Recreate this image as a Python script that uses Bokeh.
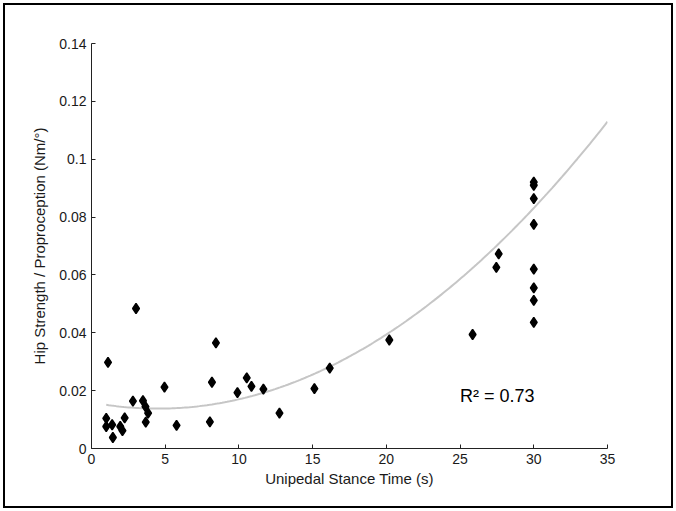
import numpy as np
from bokeh.plotting import figure
from bokeh.models import ColumnDataSource, Range1d, FixedTicker, Label
from bokeh.embed import file_html
from bokeh.resources import INLINE

# Unipedal stance time (s)
stance_time = [1.0, 1.0, 1.4, 1.45, 1.95, 2.1, 2.25,
               2.81, 3.49, 3.66, 3.84, 3.68, 4.95, 5.77,
               1.12, 3.02,
               8.44, 8.17, 8.03, 9.9, 10.53, 10.85, 11.66, 12.75,
               15.12, 16.16, 20.2, 25.85, 27.46, 27.62,
               30.0, 30.0, 30.0, 30.0, 30.0, 30.0, 30.0, 30.0]
# Hip strength / proprioception (Nm/deg)
hip_ratio = [0.0104, 0.0076, 0.0082, 0.0038, 0.0076, 0.0062, 0.0106,
             0.0164, 0.0165, 0.0145, 0.0122, 0.0091, 0.0212, 0.0080,
             0.0298, 0.0484,
             0.0365, 0.0229, 0.0092, 0.0193, 0.0244, 0.0215, 0.0205, 0.0122,
             0.0207, 0.0278, 0.0375, 0.0394, 0.0626, 0.0673,
             0.0921, 0.0910, 0.0864, 0.0775, 0.0620, 0.0555, 0.0512, 0.0436]

# Quadratic trend line as drawn in the chart (vertex, curvature)
trend_vertex_x = 4.5
trend_vertex_y = 0.0138
trend_curvature = 1.066e-4
trend_x_end = 35

x_ticks = [0, 5, 10, 15, 20, 25, 30, 35]
y_ticks = [0, 0.02, 0.04, 0.06, 0.08, 0.1, 0.12, 0.14]
y_tick_labels = {0: "0", 0.02: "0.02", 0.04: "0.04", 0.06: "0.06", 0.08: "0.08",
                 0.1: "0.1", 0.12: "0.12", 0.14: "0.14"}
r2_text = "R\u00b2 = 0.73"

fit_x = np.linspace(min(stance_time), trend_x_end, 200)
fit_y = trend_vertex_y + trend_curvature * (fit_x - trend_vertex_x) ** 2

FONT = "Liberation Sans"
TXT = "#1a1a1a"

p = figure(width=670, height=505, output_backend="svg", toolbar_location=None,
           x_range=Range1d(0, 35), y_range=Range1d(0, 0.14),
           min_border_left=86, min_border_right=68, min_border_top=38, min_border_bottom=62,
           styles={"border": "2px solid black", "box-sizing": "border-box"})
p.margin = (3, 3, 3, 3)
p.grid.visible = False
p.outline_line_color = None
p.background_fill_color = "white"
p.border_fill_color = "white"

p.line(fit_x, fit_y, line_color="#c6c6c6", line_width=2)
src = ColumnDataSource(dict(x=stance_time, y=hip_ratio))
p.scatter("x", "y", source=src, marker="diamond", size=10, fill_color="black",
          line_color="black", line_width=1.5)

for ax in (p.xaxis[0], p.yaxis[0]):
    ax.axis_line_color = "#222222"
    ax.major_tick_line_color = "#222222"
    ax.major_tick_in = 4
    ax.major_tick_out = 0
    ax.minor_tick_line_color = None
    ax.major_label_text_font = FONT
    ax.major_label_text_font_size = "14px"
    ax.major_label_text_color = TXT
    ax.axis_label_text_font = FONT
    ax.axis_label_text_font_size = "15px"
    ax.axis_label_text_font_style = "normal"
    ax.axis_label_text_color = TXT

p.xaxis.ticker = FixedTicker(ticks=x_ticks)
p.yaxis.ticker = FixedTicker(ticks=y_ticks)
p.yaxis.major_label_overrides = y_tick_labels
p.xaxis.axis_label = "Unipedal Stance Time (s)"
p.yaxis.axis_label = "Hip Strength / Proproception (Nm/\u00b0)"
p.xaxis.major_label_standoff = 5
p.yaxis.major_label_standoff = 5
p.xaxis.axis_label_standoff = 3
p.yaxis.axis_label_standoff = 8

p.add_layout(Label(x=25.0, y=0.0180, text=r2_text, text_font=FONT, text_baseline="alphabetic",
                   text_font_size="18px", text_color="black"))

open("out.html", "w").write(file_html(p, INLINE))
